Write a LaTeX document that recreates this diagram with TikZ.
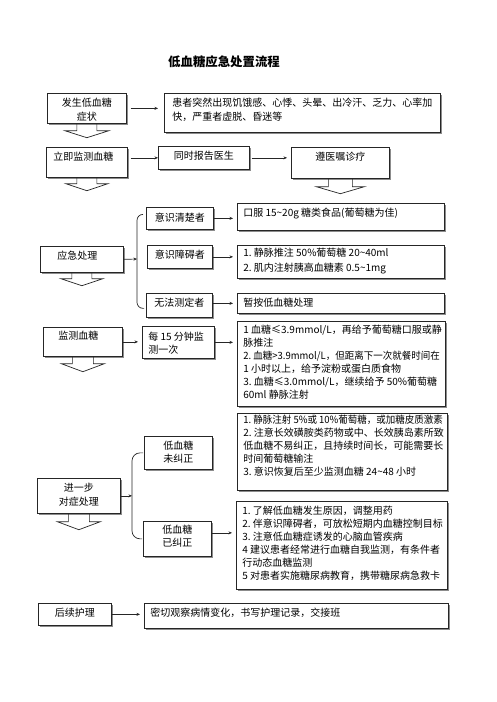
\documentclass[tikz,border=0pt]{standalone}
\usepackage{fontspec}
\usepackage{graphicx}
\setmainfont{Noto Sans CJK SC}
\usetikzlibrary{calc,arrows.meta,shadows}
\newcommand\bt[5]{\parbox[c][#2pt][t]{#1pt}{\vspace*{#3pt}#4\strut#5}}
\newcommand\Lft{\raggedright\leftskip=6pt\relax\hfuzz=20pt\relax}
\newcommand\Ctr{\centering}
\newcommand\sq[1]{\scalebox{0.95}[1]{#1}}
\newcommand\barrow[5]{\draw[blk] ($(#1.south)+(-#2,0)$) -- ++(0,#3) -- ++(-#4,0) -- ++({#2+#4},#5) -- ++({#2+#4},-#5) -- ++(-#4,0) -- ++(0,-#3);}
\begin{document}
\begin{tikzpicture}[x=1pt,y=-1pt,
  every node/.style={font=\fontsize{10pt}{13pt}\selectfont},
  box/.style={draw=black!85, line width=0.7pt, fill=white, inner sep=0pt, anchor=north west, general shadow={shadow xshift=1.2pt, shadow yshift=-1.2pt, fill=black!45}},
  arr/.style={draw=black!85, line width=0.7pt, -{Stealth[length=3.5pt,width=3pt]}, shorten >=4pt},
  blk/.style={draw=black!85, line width=0.7pt},
  brc/.style={draw=black!85, line width=0.7pt, rounded corners=6pt}]
\useasboundingbox (0,0) rectangle (496,702);
\fill[white] (0,0) rectangle (496,702);
\node[font=\fontsize{12.4pt}{14pt}\selectfont\bfseries] (title) at (224,62) {低血糖应急处置流程};
\node[box] (b1) at (47,93) {\bt{79}{30}{4.5}{\Ctr}{发生低血糖\\[1pt]症状}};
\node[box] (b2) at (164,93) {\bt{276}{39}{4.5}{\raggedright\leftskip=8pt\relax}{患者突然出现饥饿感、心悸、头晕、出冷汗、乏力、心率加\\[1pt]快，严重者虚脱、昏迷等}};
\node[box] (b3) at (46,147) {\bt{81}{30}{4.5}{\raggedright\leftskip=7pt\relax}{立即监测血糖}};
\node[box] (b4) at (158,146) {\bt{91}{23}{4.5}{\Ctr}{同时报告医生}};
\node[box] (b5) at (291,147) {\bt{98}{31}{4.5}{\Ctr}{遵医嘱诊疗}};
\node[box] (b6) at (40,246) {\bt{83}{26}{4.5}{\raggedright\leftskip=17pt\relax}{应急处理}};
\node[box] (b7) at (146,207) {\bt{67}{22}{5.5}{\Ctr}{意识清楚者}};
\node[box] (b8) at (237,203) {\bt{207}{27}{4.5}{\Lft}{口服~15\textasciitilde20g~糖类食品(葡萄糖为佳)}};
\node[box] (b9) at (147,245) {\bt{65}{23}{4.5}{\Ctr}{意识障碍者}};
\node[box] (b10) at (237,245) {\bt{207}{33}{2.5}{\Lft}{1.~静脉推注~50\%葡萄糖~20\textasciitilde40ml\\[2pt]2.~肌内注射胰高血糖素~0.5\textasciitilde1mg}};
\node[box] (b11) at (146,293) {\bt{66}{24}{4.5}{\Ctr}{无法测定者}};
\node[box] (b12) at (237,293) {\bt{207}{20}{4.5}{\Lft}{暂按低血糖处理}};
\node[box] (b13) at (43,327) {\bt{79}{29}{3.5}{\raggedright\leftskip=15pt\relax}{监测血糖}};
\node[box] (b14) at (142,326) {\bt{72}{32}{5.5}{\Lft}{每~15~分钟监\\测一次}};
\node[box] (b15) at (237,321) {\bt{208}{85}{3.5}{\Lft}{1~血糖≤3.9mmol/L，再给予葡萄糖口服或静\\脉推注\\\sq{2.~血糖>3.9mmol/L，但距离下一次就餐时间在}\\1~小时以上，给予淀粉或蛋白质食物\\3.~血糖≤3.0mmol/L，继续给予~50\%葡萄糖\\60ml~静脉注射}};
\node[box] (b16) at (144,436) {\bt{68}{33}{4.5}{\Ctr}{低血糖\\未纠正}};
\node[box] (b17) at (237,413) {\bt{210}{77}{1.5}{\Lft}{\sq{1.~静脉注射~5\%或~10\%葡萄糖，或加糖皮质激素}\\2.~注意长效磺胺类药物或中、长效胰岛素所致\\低血糖不易纠正，且持续时间长，可能需要长\\时间葡萄糖输注\\3.~意识恢复后至少监测血糖~24\textasciitilde48~小时}};
\node[box] (b18) at (37,478) {\bt{83}{35}{4.5}{\Ctr}{进一步\\[1pt]对症处理}};
\node[box] (b19) at (143,521) {\bt{68}{35}{3.5}{\Ctr}{低血糖\\已纠正}};
\node[box] (b20) at (236,501) {\bt{211}{88}{4.5}{\Lft}{1.~了解低血糖发生原因，调整用药\\2.~伴意识障碍者，可放松短期内血糖控制目标\\3.~注意低血糖症诱发的心脑血管疾病\\4~建议患者经常进行血糖自我监测，有条件者\\行动态血糖监测\\5~对患者实施糖尿病教育，携带糖尿病急救卡}};
\node[box] (b21) at (38,603) {\bt{73}{22}{4.5}{\Ctr}{后续护理}};
\node[box] (b22) at (144,603) {\bt{304}{25}{4.5}{\Lft}{密切观察病情变化，书写护理记录，交接班}};
\coordinate (br1) at (137,259);
\coordinate (br2) at (132,494);
\draw[brc] ($(b7.west)+(-3,-4)$) -| (br1) |- ($(b11.west)+(-2,3)$);
\draw[brc, rounded corners=8pt] ($(b16.west)+(-1,0)$) -| (br2) |- ($(b19.west)+(-1,0)$);
\draw[arr, shorten <=4pt, shorten >=6pt] (b1.east) -- (b1.east -| b2.west);
\draw[arr, shorten <=3pt, shorten >=0pt] (b4.west -| b3.east) -- (b4.west);
\draw[arr, shorten <=2pt] (b4.east) -- (b4.east -| b5.west);
\draw[arr, shorten >=0pt] (b6.east) -- (br1);
\draw[arr] (b7.east) -- (b7.east -| b8.west);
\draw[arr] (b9.east) -- (b9.east -| b10.west);
\draw[arr] (b12.west -| b11.east) -- (b12.west);
\draw[arr] (b13.east) -- (b13.east -| b14.west);
\draw[arr] (b14.east) -- (b14.east -| b15.west);
\draw[arr, shorten >=0pt] (b18.east) -- (b18.east -| br2);
\draw[arr] ($(b19.east)+(0,-6)$) -- ($(b19.east -| b20.west)+(0,-6)$);
\draw[arr] (b21.east) -- (b21.east -| b22.west);
\barrow{b1}{10}{7}{12}{7}
\barrow{b3}{10}{6}{11}{7}
\barrow{b5}{12}{8}{12}{7}
\barrow{b6}{10}{6}{11}{7}
\barrow{b13}{10.5}{7}{11}{8}
\barrow{b18}{10.5}{8}{11}{8}
\end{tikzpicture}
\end{document}
